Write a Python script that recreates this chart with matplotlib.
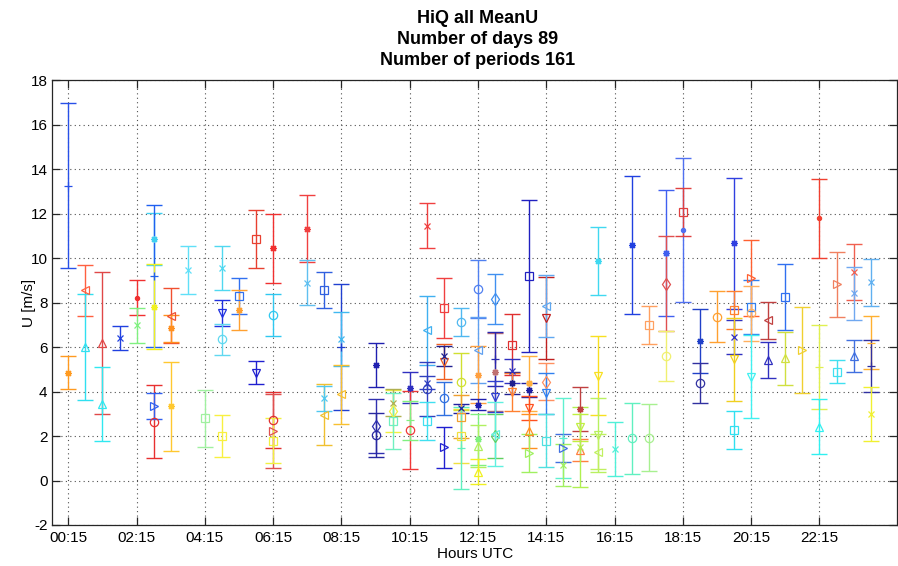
import matplotlib
matplotlib.use('Agg')
import matplotlib.pyplot as plt

plt.rcParams['font.family'] = ['Liberation Sans', 'DejaVu Sans']
plt.rcParams['axes.unicode_minus'] = False

# Centre of each half-hour period (hours UTC), one entry per error bar
slot_hours = [
    0.25, 0.25,
    0.75, 0.75,
    1.25, 1.25,
    1.75,
    2.25, 2.25,
    2.75, 2.75, 2.75, 2.75, 2.75,
    3.25, 3.25, 3.25,
    3.75,
    4.25,
    4.75, 4.75, 4.75, 4.75,
    5.25, 5.25,
    5.75, 5.75,
    6.25, 6.25, 6.25, 6.25, 6.25,
    7.25, 7.25,
    7.75, 7.75, 7.75,
    8.25, 8.25, 8.25,
    9.25, 9.25, 9.25,
    9.75, 9.75, 9.75,
    10.25, 10.25, 10.25,
    10.75, 10.75, 10.75, 10.75, 10.75,
    11.25, 11.25, 11.25, 11.25, 11.25,
    11.75, 11.75, 11.75, 11.75, 11.75, 11.75,
    12.25, 12.25, 12.25, 12.25, 12.25, 12.25, 12.25,
    12.75, 12.75, 12.75, 12.75, 12.75, 12.75,
    13.25, 13.25, 13.25, 13.25,
    13.75, 13.75, 13.75, 13.75, 13.75, 13.75,
    14.25, 14.25, 14.25, 14.25, 14.25,
    14.75, 14.75, 14.75,
    15.25, 15.25, 15.25, 15.25,
    15.75, 15.75, 15.75, 15.75,
    16.25,
    16.75, 16.75,
    17.25, 17.25,
    17.75, 17.75, 17.75,
    18.25, 18.25,
    18.75, 18.75,
    19.25,
    19.75, 19.75, 19.75, 19.75, 19.75,
    20.25, 20.25, 20.25, 20.25,
    20.75, 20.75,
    21.25, 21.25,
    21.75,
    22.25, 22.25, 22.25,
    22.75, 22.75,
    23.25, 23.25, 23.25,
    23.75, 23.75, 23.75, 23.75,
]

# Mean wind speed U [m/s] of each period
mean_u = [
    13.26, 4.85,
    8.55, 6.0,
    6.2, 3.44,
    6.4,
    8.22, 6.98,
    10.86, 9.2, 7.82, 2.65, 3.35,
    7.42, 6.85, 3.34,
    9.48,
    2.8,
    9.57, 7.52, 6.35, 2.0,
    8.3, 7.67,
    10.86, 4.85,
    10.44, 7.44, 2.72, 2.21, 1.79,
    11.33, 8.9,
    8.57, 2.95, 3.7,
    6.02, 6.37, 3.87,
    5.18, 2.45, 2.05,
    3.14, 3.5, 2.66,
    4.18, 2.27, 2.7,
    11.46, 6.75, 4.1, 4.4, 2.68,
    7.77, 5.35, 3.7, 1.49, 5.6,
    7.14, 4.45, 3.25, 2.87, 2.0, 1.45,
    8.61, 5.87, 4.75, 3.4, 1.85, 1.55, 0.4,
    8.17, 4.89, 5.47, 3.77, 2.0, 2.1,
    6.1, 4.93, 4.4, 3.97,
    9.2, 4.37, 4.07, 3.25, 2.24, 1.25,
    7.31, 7.85, 4.45, 3.92, 1.8,
    1.9, 1.45, 0.7,
    3.23, 2.39, 1.37, 1.5,
    9.89, 4.71, 2.05, 1.3,
    1.42,
    10.6, 1.9,
    7.0, 1.93,
    10.24, 8.86, 5.61,
    11.27, 12.06,
    6.28, 4.37,
    7.37,
    10.67, 7.66, 6.47, 5.45, 2.27,
    9.12, 7.79, 7.52, 4.67,
    7.2, 5.42,
    8.27, 5.5,
    5.86,
    11.79, 5.1, 2.42,
    8.83, 4.89,
    9.39, 8.42, 5.6,
    8.91, 6.2, 5.15, 3.0,
]

# Standard deviation of U [m/s] (half length of each error bar)
std_u = [
    3.72, 0.75,
    1.15, 2.38,
    3.19, 1.65,
    0.53,
    0.79, 0.79,
    1.15, 3.2, 1.9, 1.65, 0.6,
    1.22, 0.6, 2.0,
    1.08,
    1.29,
    1.0, 0.59, 0.71, 0.95,
    0.8, 0.92,
    1.3, 0.52,
    1.56, 0.95, 1.25, 1.66, 1.0,
    1.52, 1.02,
    0.83, 1.37, 0.56,
    2.83, 1.2, 1.33,
    0.99, 1.23, 1.0,
    0.95, 0.6, 1.26,
    0.68, 1.77, 0.86,
    1.01, 1.55, 1.22, 0.3, 0.87,
    1.35, 0.8, 0.75, 0.91, 0.45,
    0.64, 1.3, 0.2, 0.97, 1.2, 1.85,
    1.31, 1.5, 1.28, 0.25, 1.15, 0.95, 0.55,
    1.14, 1.76, 1.2, 0.7, 1.0, 1.45,
    1.37, 0.55, 0.5, 0.85,
    3.42, 1.25, 0.3, 0.55, 0.77, 0.85,
    1.86, 1.4, 0.84, 0.93, 1.2,
    1.8, 0.63, 0.95,
    0.98, 0.6, 0.5, 1.8,
    1.53, 1.77, 1.65, 0.8,
    1.22,
    3.1, 1.6,
    0.86, 1.5,
    2.83, 2.15, 1.13,
    3.23, 1.08,
    1.43, 0.9,
    1.15,
    2.94, 0.86, 0.77, 1.87, 0.87,
    1.71, 1.22, 1.24, 1.88,
    0.82, 0.81,
    1.48, 1.2,
    1.94,
    1.77, 1.88, 1.24,
    1.47, 0.52,
    1.27, 1.2, 0.71,
    1.07, 1.2, 1.15, 1.2,
]

line_colors = [
    '#2850e8', '#ff9a20',
    '#ff6040', '#30e0f0',
    '#e04848', '#30e8f0',
    '#2040e0',
    '#f03030', '#80f080',
    '#40d0f0', '#2060f0', '#f0f020', '#e83030', '#3060f0',
    '#f05030', '#ff9020', '#ffc830',
    '#60e0f8',
    '#a0f0a0',
    '#50d8f0', '#2030e0', '#60d8f0', '#f8f040',
    '#3070f0', '#ffa030',
    '#e84030', '#2020d0',
    '#f03030', '#30c8f0', '#e03030', '#e05050', '#f0f040',
    '#f04040', '#60c0f0',
    '#3060e0', '#f0c030', '#50c8f0',
    '#2040d0', '#40b8f0', '#f8c030',
    '#2020b0', '#3030b0', '#2828a0',
    '#f0f040', '#b0b050', '#70f0c0',
    '#3030c0', '#f03838', '#80f080',
    '#f04040', '#40b0f0', '#3040c0', '#3040c0', '#40e0f0',
    '#f04040', '#f06020', '#3070e0', '#2020d0', '#202090',
    '#50b8f0', '#d0e030', '#2020a0', '#f0a030', '#f0e040', '#60f0c0',
    '#5080f0', '#60a0f0', '#ffa040', '#2020b0', '#80f080', '#b0f060', '#f0f020',
    '#4090f0', '#c07070', '#2828b0', '#3040d0', '#60d060', '#60f0e0',
    '#e03030', '#3030c0', '#202090', '#ff8030',
    '#2020c0', '#ffb040', '#2020a0', '#ff5020', '#ff9020', '#a0f060',
    '#c02020', '#60a8f0', '#ff9060', '#3080f0', '#50e0e0',
    '#60f0d0', '#4070e0', '#a0f060',
    '#c04040', '#c0f040', '#ff8040', '#b0f050',
    '#40d8f0', '#f8e020', '#b8f060', '#c0f060',
    '#50f0d8',
    '#2040e0', '#60f0c0',
    '#ffa060', '#a8f090',
    '#4060f0', '#e05050', '#f0f070',
    '#5070f0', '#e04040',
    '#2040c8', '#3030a0',
    '#ffa030',
    '#3040e0', '#ff8030', '#3030c0', '#f0d020', '#30e0f0',
    '#ff6030', '#3080f0', '#ffb060', '#40f0f0',
    '#c04040', '#3030c0',
    '#3070f0', '#d0e040',
    '#f0d030',
    '#f04030', '#e0f050', '#30f0f0',
    '#f08060', '#40e0f0',
    '#f06050', '#70a8f0', '#4070e0',
    '#60b0f0', '#ffb030', '#3030a0', '#f0f030',
]

marker_styles = [
    '+', '*',
    '<', '^',
    '^', '^',
    'x',
    '.', 'x',
    '*', '+', '*', 'o', '>',
    '<', '*', '*',
    'x',
    's',
    'x', 'v', 'o', 's',
    's', '*',
    's', 'v',
    '*', 'o', 'o', '>', 's',
    '*', 'x',
    's', '<', 'x',
    '+', 'x', '<',
    '*', 'd', 'o',
    'd', 'x', 's',
    '*', 'o', '+',
    'x', '<', 'o', 'x', 's',
    's', 'v', 'o', '>', 'x',
    'o', 'o', 'x', 's', 's', '+',
    'o', '<', '*', '*', '*', '^', '^',
    'd', '*', '+', 'v', 'd', '<',
    's', 'x', '*', 'v',
    's', '*', '*', 'v', '^', '>',
    'v', '<', 'd', 'v', 's',
    '+', '>', 'x',
    '*', 'v', '^', 'x',
    '*', 'v', 'v', '<',
    'x',
    '*', 'o',
    's', 'o',
    '*', 'd', 'o',
    '.', 's',
    '*', 'o',
    'o',
    '*', 's', 'x', 'v', 's',
    '>', 's', 'o', 'v',
    '<', '^',
    's', '^',
    '>',
    '.', '+', '^',
    '>', 's',
    'x', 'x', '^',
    'x', '_', '+', 'x',
]

tick_hours = [0.25, 2.25, 4.25, 6.25, 8.25, 10.25, 12.25, 14.25, 16.25, 18.25, 20.25, 22.25]
tick_labels = ['00:15', '02:15', '04:15', '06:15', '08:15', '10:15',
               '12:15', '14:15', '16:15', '18:15', '20:15', '22:15']
u_ticks = [-2, 0, 2, 4, 6, 8, 10, 12, 14, 16, 18]

title_lines = ['HiQ all MeanU', 'Number of days 89', 'Number of periods 161']

# asterisk marker (plus and cross combined)
marker_map = {'*': (8, 2, 0)}
marker_size = {'*': 5, 'x': 5, '.': 6}

W, H = 898, 566
fig = plt.figure(figsize=(W / 100, H / 100), dpi=100)
ax_l, ax_r, ax_t, ax_b = 51.7, 897.0, 80.3, 525.0
ax = fig.add_axes([ax_l / W, 1 - ax_b / H, (ax_r - ax_l) / W, (ax_b - ax_t) / H])

for x, m, s, c, mk in zip(slot_hours, mean_u, std_u, line_colors, marker_styles):
    face = c if mk == '.' else 'none'
    ax.errorbar([x], [m], yerr=[s], fmt='none', ecolor=c, elinewidth=1.0,
                capsize=6, capthick=1.0, zorder=2)
    ax.plot([x], [m], linestyle='none', marker=marker_map.get(mk, mk),
            markersize=marker_size.get(mk, 6), markeredgecolor=c,
            markerfacecolor=face, markeredgewidth=0.9, zorder=3)

ax.set_xlim(-0.236, 24.52)
ax.set_ylim(-2, 18)
ax.set_xticks(tick_hours)
ax.set_xticklabels(tick_labels)
ax.set_yticks(u_ticks)

ax.grid(True, color='#505050', linestyle=(0, (1, 3)), linewidth=0.8, zorder=0)
ax.set_axisbelow(True)
ax.tick_params(axis='both', direction='in', length=6, width=0.9, color='#262626',
               labelsize=11, top=True, right=True)
ax.tick_params(axis='x', pad=4)
ax.tick_params(axis='y', pad=3)
for sp in ax.spines.values():
    sp.set_color('#262626')
    sp.set_linewidth(0.9)

cx = 478 / W
for line, base in zip(title_lines, [23.3, 44.3, 65.3]):
    fig.text(cx, 1 - base / H, line, ha='center', va='baseline',
             fontsize=13, fontweight='bold')

fig.text(475 / W, 1 - 558 / H, 'Hours UTC', ha='center', va='baseline', fontsize=11)
fig.text(29 / W, 1 - 302.7 / H, 'U [m/s]', ha='center', va='center',
         rotation=90, fontsize=11)

fig.savefig('out.png', dpi=100)
